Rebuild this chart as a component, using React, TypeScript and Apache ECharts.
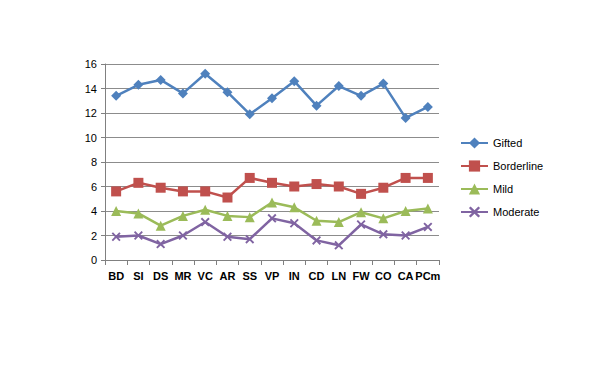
import React, { useEffect, useRef } from "react";
import * as echarts from "echarts";

const categories = ["BD", "SI", "DS", "MR", "VC", "AR", "SS", "VP", "IN", "CD", "LN", "FW", "CO", "CA", "PCm"];
const gifted = [13.4, 14.3, 14.7, 13.6, 15.2, 13.7, 11.9, 13.2, 14.6, 12.6, 14.2, 13.4, 14.4, 11.6, 12.5];
const borderline = [5.6, 6.3, 5.9, 5.6, 5.6, 5.1, 6.7, 6.3, 6.0, 6.2, 6.0, 5.4, 5.9, 6.7, 6.7];
const mild = [4.0, 3.8, 2.8, 3.6, 4.1, 3.6, 3.5, 4.7, 4.3, 3.2, 3.1, 3.9, 3.4, 4.0, 4.2];
const moderate = [1.9, 2.0, 1.3, 2.0, 3.1, 1.9, 1.7, 3.4, 3.0, 1.6, 1.2, 2.9, 2.1, 2.0, 2.7];

const xSymbol = "path://M0,1.5L1.5,0L5,3.5L8.5,0L10,1.5L6.5,5L10,8.5L8.5,10L5,6.5L1.5,10L0,8.5L3.5,5Z";

export default function App() {
  const ref = useRef<HTMLDivElement>(null);
  useEffect(() => {
    const chart = echarts.init(ref.current!, null, { renderer: "svg" });
    const font = "Arial, 'Liberation Sans', sans-serif";
    const mk = (name: string, data: number[], color: string, symbol: string, size: number) => ({
      name,
      type: "line",
      data,
      symbol,
      symbolSize: size,
      lineStyle: { color, width: 2.5 },
      itemStyle: { color },
      z: 3,
    });
    chart.setOption({
      animation: false,
      textStyle: { fontFamily: font },
      grid: { left: 105, right: 161, top: 64, bottom: 107, containLabel: false },
      legend: {
        orient: "vertical",
        left: 455,
        top: 131,
        itemGap: 9,
        itemWidth: 27,
        itemHeight: 14,
        textStyle: { fontSize: 11, color: "#000", fontFamily: font, lineHeight: 14 },
        data: ["Gifted", "Borderline", "Mild", "Moderate"],
      },
      xAxis: {
        type: "category",
        data: categories,
        boundaryGap: true,
        axisLine: { lineStyle: { color: "#808080", width: 1 } },
        axisTick: { show: true, length: 5, interval: 0, lineStyle: { color: "#808080" } },
        axisLabel: { fontSize: 11, fontWeight: "bold", color: "#000", margin: 10, interval: 0, fontFamily: font },
      },
      yAxis: {
        type: "value",
        min: 0,
        max: 16,
        interval: 2,
        axisLine: { show: true, lineStyle: { color: "#808080", width: 1 } },
        axisTick: { show: true, length: 4, lineStyle: { color: "#808080" } },
        axisLabel: { fontSize: 11, color: "#000", margin: 8, fontFamily: font },
        splitLine: { lineStyle: { color: "#8c8c8c", width: 1 } },
      },
      series: [
        mk("Gifted", gifted, "#4F81BD", "diamond", 10),
        mk("Borderline", borderline, "#C0504D", "rect", 10),
        mk("Mild", mild, "#9BBB59", "triangle", 10),
        mk("Moderate", moderate, "#8064A2", xSymbol, 9),
      ],
    });
    return () => chart.dispose();
  }, []);
  return <div ref={ref} style={{ width: 600, height: 367, position: "absolute", left: 0, top: 0 }} />;
}
